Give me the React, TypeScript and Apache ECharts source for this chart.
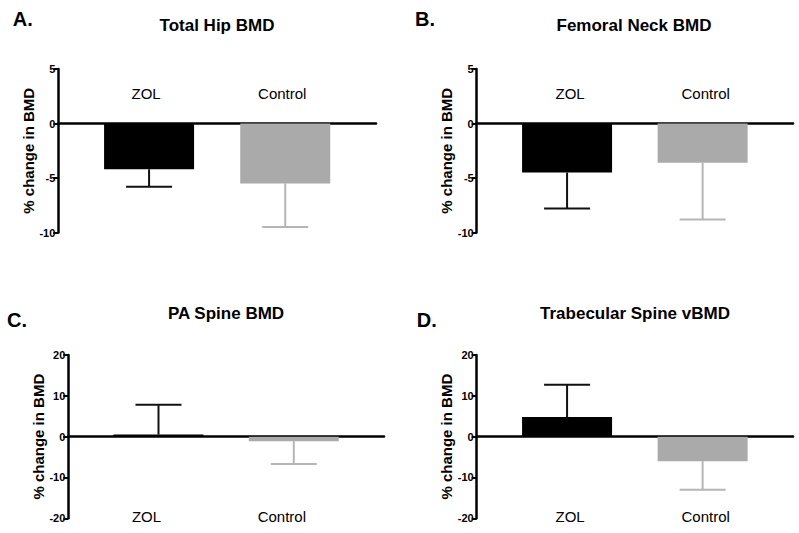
import React, { useEffect, useRef } from "react";
import * as echarts from "echarts";

// ---------- data ----------
const categories = ["ZOL", "Control"];
const categoryPositions = [1, 2];
const panelLetters = ["A.", "B.", "C.", "D."];
const panelTitles = ["Total Hip BMD", "Femoral Neck BMD", "PA Spine BMD", "Trabecular Spine vBMD"];
const yAxisName = "% change in BMD";

const hipMean = [-4.2, -5.5];
const hipSD = [1.6, 4.0];
const neckMean = [-4.5, -3.6];
const neckSD = [3.3, 5.2];
const paSpineMean = [0.5, -1.1];
const paSpineSD = [7.3, 5.6];
const trabMean = [4.8, -6.0];
const trabSD = [7.9, 7.0];

const hipYRange = [-10, 5];
const hipYStep = 5;
const spineYRange = [-20, 20];
const spineYStep = 10;

// ---------- styles / layout ----------
const FONT = "'Liberation Sans', Arial, Helvetica, sans-serif";
const barColors = ["#000000", "#aaaaaa"];
const errColors = ["#111111", "#b5b5b5"];

const panels = [
  { mean: hipMean, sd: hipSD, yr: hipYRange, step: hipYStep, grid: { left: 58.3, top: 69, width: 317.7, height: 163.5 }, labelInside: true, labelMargin: 132, shift: -3, title: { x: 217, y: 17 }, letter: { x: 12.7, y: 9 } },
  { mean: neckMean, sd: neckSD, yr: hipYRange, step: hipYStep, grid: { left: 476.7, top: 69, width: 316.3, height: 163.5 }, labelInside: true, labelMargin: 132, shift: 3, title: { x: 634, y: 17 }, letter: { x: 415, y: 9 } },
  { mean: paSpineMean, sd: paSpineSD, yr: spineYRange, step: spineYStep, grid: { left: 68.3, top: 355, width: 315.7, height: 163.3 }, labelInside: false, labelMargin: -9, shift: -12, title: { x: 226, y: 304.5 }, letter: { x: 7, y: 310 } },
  { mean: trabMean, sd: trabSD, yr: spineYRange, step: spineYStep, grid: { left: 476.7, top: 355, width: 316.3, height: 163.3 }, labelInside: false, labelMargin: -9, shift: 3, title: { x: 635, y: 304.5 }, letter: { x: 416.7, y: 310 } },
];

function buildOption() {
  const grid: any[] = [];
  const xAxis: any[] = [];
  const yAxis: any[] = [];
  const series: any[] = [];
  const title: any[] = [];

  panels.forEach((p, i) => {
    grid.push({ ...p.grid, containLabel: false, outerBoundsMode: "none" });
    const pad = p.shift < 0 ? [0, -2 * p.shift, 0, 0] : [0, 0, 0, 2 * p.shift];
    xAxis.push({
      type: "value",
      gridIndex: i,
      min: 1 / 3,
      max: 8 / 3,
      axisLine: { show: true, onZero: true, lineStyle: { color: "#000", width: 2.5 } },
      axisTick: { show: false },
      splitLine: { show: false },
      axisLabel: {
        show: true,
        inside: p.labelInside,
        margin: p.labelMargin,
        customValues: categoryPositions,
        formatter: (v: number) => categories[Math.round(v) - 1] ?? "",
        color: "#000",
        fontFamily: FONT,
        fontSize: 15,
        padding: pad,
      },
    });
    yAxis.push({
      type: "value",
      gridIndex: i,
      min: p.yr[0],
      max: p.yr[1],
      interval: p.step,
      name: yAxisName,
      nameLocation: "middle",
      nameGap: 22,
      nameRotate: 90,
      nameTextStyle: { color: "#000", fontFamily: FONT, fontSize: 15, fontWeight: "bold" },
      axisLine: { show: true, lineStyle: { color: "#000", width: 2.5 } },
      axisTick: { show: true, length: 5, lineStyle: { color: "#000", width: 2 } },
      splitLine: { show: false },
      axisLabel: { color: "#000", fontFamily: FONT, fontSize: 11, fontWeight: "bold", margin: 3 },
    });

    series.push({
      type: "bar",
      xAxisIndex: i,
      yAxisIndex: i,
      barWidth: 90,
      z: 1,
      data: categoryPositions.map((x, k) => ({ value: [x, p.mean[k]], itemStyle: { color: barColors[k] } })),
    });

    series.push({
      type: "custom",
      xAxisIndex: i,
      yAxisIndex: i,
      z: 3,
      clip: false,
      encode: { x: 0, y: 1 },
      data: categoryPositions.map((x, k) => [x, p.mean[k], p.sd[k]]),
      renderItem: (params: any, api: any) => {
        const x = api.value(0);
        const m = api.value(1);
        const e = api.value(2);
        const end = m + (m >= 0 ? e : -e);
        const p0 = api.coord([x, m]);
        const p1 = api.coord([x, end]);
        const color = errColors[params.dataIndex];
        const half = 23;
        return {
          type: "group",
          children: [
            { type: "line", shape: { x1: p0[0], y1: p0[1], x2: p1[0], y2: p1[1] }, style: { stroke: color, lineWidth: 2 } },
            { type: "line", shape: { x1: p1[0] - half, y1: p1[1], x2: p1[0] + half, y2: p1[1] }, style: { stroke: color, lineWidth: 2 } },
          ],
        };
      },
    });

    title.push({
      text: panelTitles[i],
      left: p.title.x,
      top: p.title.y,
      textAlign: "center",
      padding: 0,
      textStyle: { color: "#000", fontFamily: FONT, fontSize: 17, fontWeight: "bold" },
    });
    title.push({
      text: panelLetters[i],
      left: p.letter.x,
      top: p.letter.y,
      padding: 0,
      textStyle: { color: "#000", fontFamily: FONT, fontSize: 20, fontWeight: "bold" },
    });
  });

  return { animation: false, backgroundColor: "#ffffff", title, grid, xAxis, yAxis, series };
}

export default function App() {
  const ref = useRef<HTMLDivElement>(null);
  useEffect(() => {
    if (!ref.current) return;
    const chart = echarts.init(ref.current, undefined, { renderer: "svg" });
    chart.setOption(buildOption() as any);
    return () => chart.dispose();
  }, []);
  return <div ref={ref} style={{ position: "fixed", left: 0, top: 0, width: 799, height: 533 }} />;
}
